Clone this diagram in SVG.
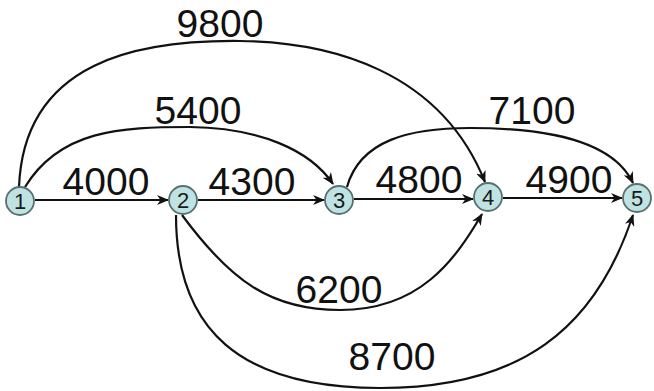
<svg xmlns="http://www.w3.org/2000/svg" width="654" height="391" viewBox="0 0 654 391">
<defs>
<marker id="ah" viewBox="0 0 12 10" refX="11" refY="5" markerWidth="12" markerHeight="10" markerUnits="userSpaceOnUse" orient="auto">
<path d="M0,0 L12,5 L0,10 L3.5,5 z" fill="#111"/>
</marker>
<style>
.e{fill:none;stroke:#111;stroke-width:2.2;marker-end:url(#ah)}
.n circle{fill:#bfe3e2;stroke:#5a6f6f;stroke-width:1.8}
.n text{font-family:"Liberation Sans",Arial,sans-serif;font-size:22px;fill:#1a1a1a;text-anchor:middle}
.lbl{font-family:"Liberation Sans",Arial,sans-serif;font-size:39px;fill:#111;text-anchor:middle}
</style>
</defs>
<rect width="654" height="391" fill="#fff"/>
<g id="connectors">
<path class="e" d="M35,200 L168,200"/>
<path class="e" d="M198,200 L324,200"/>
<path class="e" d="M354,199 L473,199"/>
<path class="e" d="M503,198 L622,198"/>
<path class="e" d="M19,187 C24,60 140,40 240,41 C330,42 440,70 485,182"/>
<path class="e" d="M25,187 C60,130 120,127 190,127 C260,128 310,150 333,184"/>
<path class="e" d="M347,187 C360,140 410,128 470,128 C560,128 615,145 633,183"/>
<path class="e" d="M182,215 C230,280 270,310 340,310 C420,310 455,260 482,214"/>
<path class="e" d="M176,215 C176,330 240,388 380,388 C520,388 595,330 633,215"/>
</g>
<g id="labels">
<text class="lbl" x="220" y="37">9800</text>
<text class="lbl" x="198" y="124">5400</text>
<text class="lbl" x="532" y="124">7100</text>
<text class="lbl" x="106" y="195">4000</text>
<text class="lbl" x="252" y="195">4300</text>
<text class="lbl" x="419" y="193">4800</text>
<text class="lbl" x="569" y="193">4900</text>
<text class="lbl" x="339" y="303">6200</text>
<text class="lbl" x="392" y="370">8700</text>
</g>
<g id="node1" class="n"><circle cx="20" cy="201" r="14"/><text x="20" y="209">1</text></g>
<g id="node2" class="n"><circle cx="183" cy="200" r="14"/><text x="183" y="208">2</text></g>
<g id="node3" class="n"><circle cx="339" cy="200" r="14"/><text x="339" y="208">3</text></g>
<g id="node4" class="n"><circle cx="488" cy="197" r="14"/><text x="488" y="205">4</text></g>
<g id="node5" class="n"><circle cx="637" cy="198" r="14"/><text x="637" y="206">5</text></g>
</svg>
